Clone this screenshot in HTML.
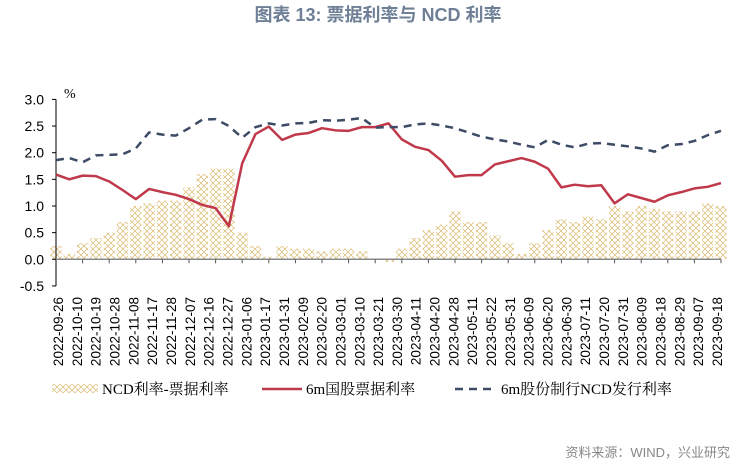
<!DOCTYPE html>
<html><head><meta charset="utf-8"><style>
body{margin:0;background:#fff;width:756px;height:470px;overflow:hidden}
svg{display:block}
</style></head><body>
<svg id="c" width="756" height="470" xmlns="http://www.w3.org/2000/svg" font-family="Liberation Sans, Noto Sans CJK SC, sans-serif">
<defs>
<pattern id="hatch" width="6" height="6" patternUnits="userSpaceOnUse">
<path d="M0,0L6,6M6,0L0,6" stroke="#d9b96f" stroke-width="0.7"/>
</pattern>
</defs>
<text x="378" y="21" text-anchor="middle" font-size="18" font-weight="bold" fill="#6e7f96" font-family="Liberation Sans, Noto Sans CJK SC, sans-serif">图表 13: 票据利率与 NCD 利率</text>
<text x="64" y="98" font-size="14" font-family="Liberation Serif, Noto Serif CJK SC, serif">%</text>
<g id="plot"></g>
<g>
<rect x="52" y="384" width="46" height="9" fill="url(#hatch)"/>
<text x="102" y="394" font-size="15" font-family="Liberation Serif, Noto Serif CJK SC, serif">NCD利率-票据利率</text>
<line x1="262" y1="389" x2="302" y2="389" stroke="#c0394b" stroke-width="2.5"/>
<text x="306" y="394" font-size="15" font-family="Liberation Serif, Noto Serif CJK SC, serif">6m国股票据利率</text>
<line x1="455" y1="389" x2="497" y2="389" stroke="#3d4b66" stroke-width="2.5" stroke-dasharray="8,6"/>
<text x="501" y="394" font-size="15" font-family="Liberation Serif, Noto Serif CJK SC, serif">6m股份制行NCD发行利率</text>
</g>
<text x="730" y="457" text-anchor="end" font-size="13" fill="#888">资料来源：WIND，兴业研究</text>
</svg>
<script>
const billRate=[1.59,1.5,1.57,1.56,1.46,1.3,1.13,1.32,1.26,1.21,1.13,1.02,0.96,0.62,1.8,2.35,2.49,2.24,2.34,2.37,2.46,2.42,2.41,2.48,2.48,2.55,2.25,2.11,2.05,1.85,1.55,1.58,1.58,1.78,1.84,1.9,1.83,1.7,1.35,1.4,1.37,1.39,1.05,1.22,1.15,1.08,1.2,1.26,1.33,1.36,1.43];
const ncdRate=[1.86,1.9,1.82,1.95,1.96,1.97,2.08,2.38,2.34,2.32,2.46,2.62,2.63,2.5,2.28,2.48,2.55,2.51,2.55,2.56,2.61,2.6,2.62,2.65,2.47,2.48,2.48,2.53,2.55,2.51,2.46,2.38,2.3,2.25,2.21,2.15,2.1,2.24,2.15,2.1,2.17,2.18,2.15,2.12,2.08,2.02,2.14,2.16,2.22,2.33,2.41];
const spread=[0.25,0.1,0.3,0.4,0.5,0.7,1.0,1.05,1.1,1.1,1.35,1.6,1.7,1.7,0.5,0.25,0.05,0.25,0.2,0.2,0.15,0.2,0.2,0.15,0,-0.05,0.2,0.4,0.55,0.65,0.9,0.7,0.7,0.45,0.3,0.1,0.3,0.55,0.75,0.7,0.8,0.75,1.0,0.9,1.0,0.95,0.9,0.9,0.9,1.05,1.0];
const yTicks=["3.0","2.5","2.0","1.5","1.0","0.5","0.0","-0.5"];
const dateLabels=["2022-09-26","2022-10-10","2022-10-19","2022-10-28","2022-11-08","2022-11-17","2022-11-28","2022-12-07","2022-12-16","2022-12-27","2023-01-06","2023-01-17","2023-01-31","2023-02-09","2023-02-20","2023-03-01","2023-03-10","2023-03-21","2023-03-30","2023-04-11","2023-04-20","2023-04-28","2023-05-11","2023-05-22","2023-05-31","2023-06-09","2023-06-20","2023-06-30","2023-07-11","2023-07-20","2023-07-31","2023-08-09","2023-08-18","2023-08-29","2023-09-07","2023-09-18"];
const NS="http://www.w3.org/2000/svg";
const g=document.getElementById('plot');
const X0=56,X1=721,Y0=259.3,K=53.3;
const n=billRate.length;
const x=i=>X0+(X1-X0)*i/(n-1);
const y=v=>Y0-v*K;
function mk(t,a){const e=document.createElementNS(NS,t);for(const k in a)e.setAttribute(k,a[k]);g.appendChild(e);return e;}
const bw=(X1-X0)/(n-1);
spread.forEach((v,i)=>{const r=mk('rect',{x:x(i)-bw/2+1,y:Math.min(y(v),Y0),width:bw-2,height:Math.abs(y(v)-Y0),fill:'url(#hatch)'});

});
const ax=mk('line',{x1:X0,y1:y(3),x2:X0,y2:y(-0.5),stroke:'#000','stroke-width':1});


yTicks.forEach(t=>{const v=parseFloat(t);mk('line',{x1:X0-4,y1:y(v),x2:X0,y2:y(v),stroke:'#000'});
const tx=mk('text',{x:44,y:y(v)+5,'text-anchor':'end','font-size':14});tx.textContent=t;

});
const xa=mk('line',{x1:X0,y1:Y0,x2:X1,y2:Y0,stroke:'#888','stroke-width':1.5});


for(let i=2;i<n;i+=2){mk('line',{x1:x(i),y1:Y0,x2:x(i),y2:Y0+4,stroke:'#555'});}
const pb=mk('polyline',{points:billRate.map((v,i)=>x(i)+','+y(v)).join(' '),fill:'none',stroke:'#c0394b','stroke-width':2.5,'stroke-linejoin':'round'});


const pn=mk('polyline',{points:ncdRate.map((v,i)=>x(i)+','+y(v)).join(' '),fill:'none',stroke:'#3d4b66','stroke-width':2.5,'stroke-dasharray':'8,6'});


const L0=58,L1=717;
dateLabels.forEach((d,i)=>{const lx=L0+(L1-L0)*i/(dateLabels.length-1)+5;
const t=mk('text',{x:lx,y:297,transform:`rotate(-90 ${lx} 297)`,'text-anchor':'end','font-size':13.5});
t.textContent=d;

});
</script>
</body></html>
